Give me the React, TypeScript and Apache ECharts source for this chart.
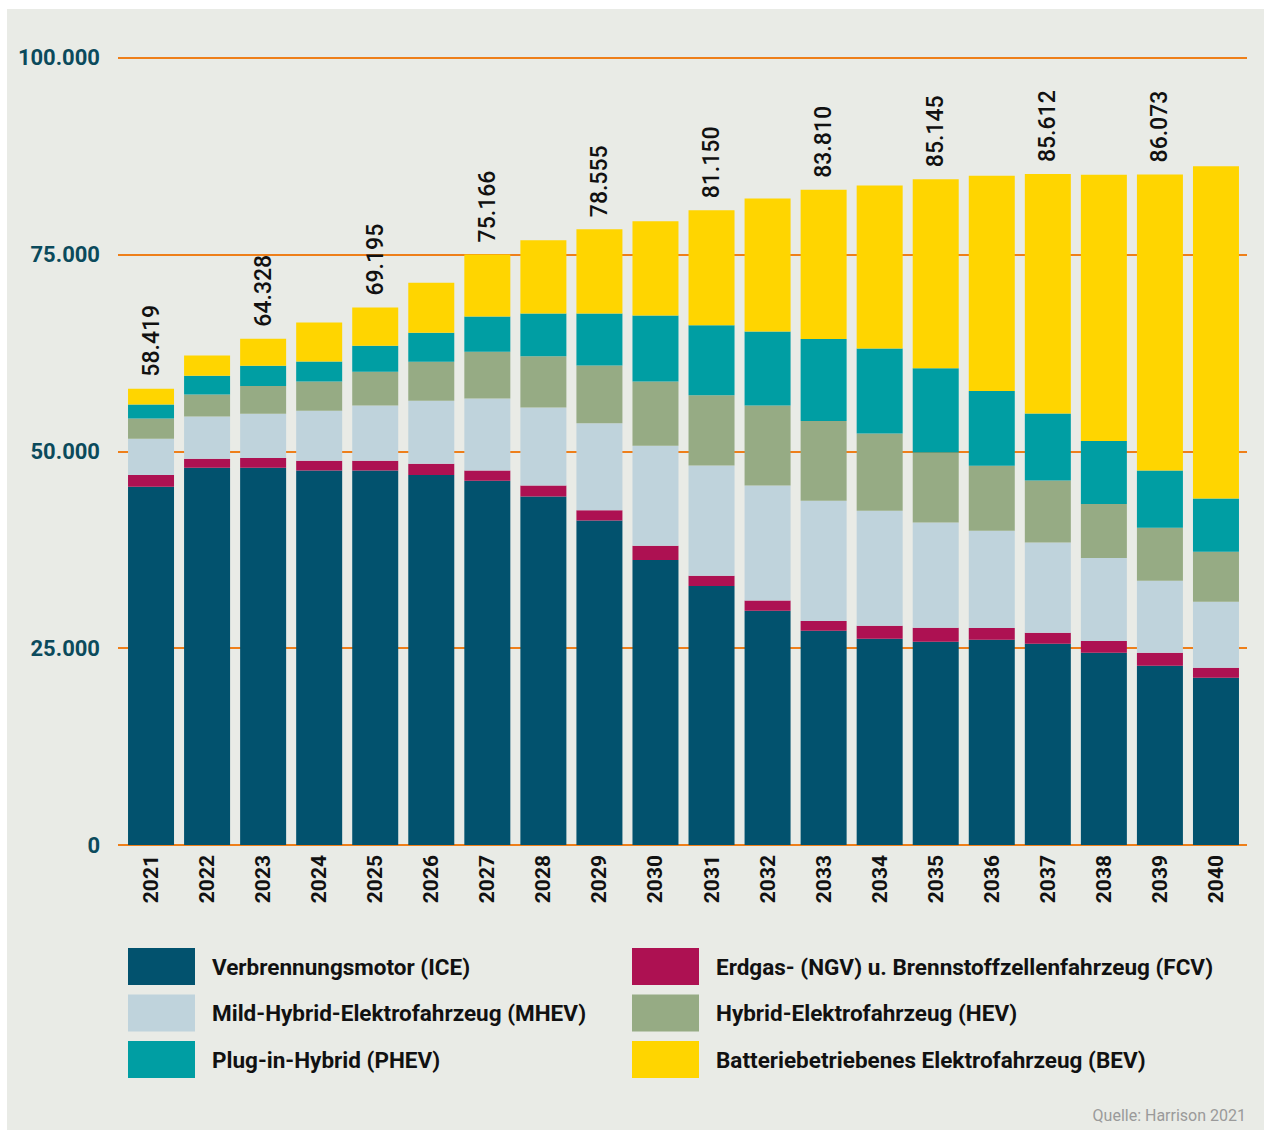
import React, { useEffect, useRef } from "react";
import * as echarts from "echarts";

const years = ["2021","2022","2023","2024","2025","2026","2027","2028","2029","2030","2031","2032","2033","2034","2035","2036","2037","2038","2039","2040"];

const ice  = [45500,47900,47900,47550,47550,47000,46250,44250,41200,36200,32900,29750,27200,26200,25800,26050,25550,24400,22750,21250];
const ngv  = [1500,1150,1250,1250,1250,1400,1300,1400,1300,1800,1300,1300,1250,1650,1800,1500,1400,1500,1650,1250];
const mhev = [4600,5350,5600,6350,7000,8000,9150,9900,11050,12700,14000,14600,15250,14600,13350,12350,11450,10550,9150,8400];
const hev  = [2550,2800,3550,3700,4300,4950,5950,6500,7350,8150,8900,10150,10150,9800,8900,8250,7900,6850,6750,6350];
const phev = [1800,2400,2550,2550,3300,3700,4450,5450,6600,8400,8900,9400,10400,10800,10700,9500,8500,8000,7250,6750];
const bev  = [2000,2550,3450,4950,4850,6350,7900,9300,10700,11950,14600,16900,18950,20700,24000,27350,30400,33800,37600,42200];

const totalLabels = ["58.419","","64.328","","69.195","","75.166","","78.555","","81.150","","83.810","","85.145","","85.612","","86.073",""];

const seriesNames = [
  "Verbrennungsmotor (ICE)",
  "Erdgas- (NGV) u. Brennstoffzellenfahrzeug (FCV)",
  "Mild-Hybrid-Elektrofahrzeug (MHEV)",
  "Hybrid-Elektrofahrzeug (HEV)",
  "Plug-in-Hybrid (PHEV)",
  "Batteriebetriebenes Elektrofahrzeug (BEV)",
];
const seriesColors = ["#02526e", "#ad1152", "#bfd3dc", "#96ab84", "#009ea3", "#ffd500"];
const seriesData = [ice, ngv, mhev, hev, phev, bev];

const yTicks = [0, 25000, 50000, 75000, 100000];

const FONT = "Roboto, 'Liberation Sans', sans-serif";

const fmt = (v: number) => String(v).replace(/\B(?=(\d{3})+(?!\d))/g, ".");

export default function App() {
  const ref = useRef<HTMLDivElement>(null);
  useEffect(() => {
    if (!ref.current) return;
    const chart = echarts.init(ref.current, null, { renderer: "svg" });
    const legendText = { fontSize: 22.5, fontWeight: "bold", color: "#111", fontFamily: FONT, padding: [0, 0, 0, 12] };
    const option: any = {
      animation: false,
      backgroundColor: "#ffffff",
      graphic: [
        { type: "rect", z: -10, shape: { x: 7, y: 9, width: 1257, height: 1121 }, style: { fill: "#e9ebe6" } },
        {
          type: "text", right: 18, top: 1107,
          style: { text: "Quelle: Harrison 2021", fill: "#9a9a9a", font: `16px ${FONT}` },
        },
      ],
      grid: [
        { left: 118, right: 17, top: 57.5, bottom: 285 },
        { left: 123, right: 20, top: 57.5, bottom: 285 },
      ],
      xAxis: [
        { type: "category", gridIndex: 0, data: years, show: false },
        {
          type: "category", gridIndex: 1, data: years,
          axisLine: { show: false }, axisTick: { show: false },
          axisLabel: { rotate: 90, margin: 10, fontSize: 21, fontWeight: "bold", color: "#111", fontFamily: FONT, interval: 0 },
        },
      ],
      yAxis: [
        {
          type: "value", gridIndex: 0, min: yTicks[0], max: yTicks[yTicks.length - 1], interval: 25000,
          axisLine: { show: false }, axisTick: { show: false },
          splitLine: { show: true, lineStyle: { color: "#ee7f1a", width: 2 } },
          axisLabel: { formatter: (v: number) => fmt(v), margin: 18, fontSize: 22, fontWeight: "bold", color: "#0b4a5c", fontFamily: FONT },
        },
        {
          type: "value", gridIndex: 1, min: 0, max: 100000, interval: 25000, show: false,
          splitLine: { show: false },
        },
      ],
      legend: [
        {
          orient: "vertical", left: 128, top: 948, padding: 0, itemWidth: 67, itemHeight: 37, itemGap: 9.5,
          icon: "rect", selectedMode: false,
          data: [seriesNames[0], seriesNames[2], seriesNames[4]],
          textStyle: legendText,
        },
        {
          orient: "vertical", left: 632, top: 948, padding: 0, itemWidth: 67, itemHeight: 37, itemGap: 9.5,
          icon: "rect", selectedMode: false,
          data: [seriesNames[1], seriesNames[3], seriesNames[5]],
          textStyle: legendText,
        },
      ],
      series: seriesData.map((d, i) => ({
        name: seriesNames[i],
        type: "bar",
        stack: "total",
        xAxisIndex: 1,
        yAxisIndex: 1,
        data: d,
        barWidth: 46,
        itemStyle: { color: seriesColors[i] },
        label: i === seriesData.length - 1 ? {
          show: true, position: "top", rotate: 90, distance: 12,
          align: "left", verticalAlign: "middle",
          fontSize: 23, fontWeight: 500, color: "#111", fontFamily: FONT,
          formatter: (p: any) => totalLabels[p.dataIndex],
        } : { show: false },
      })),
    };
    chart.setOption(option);
    return () => chart.dispose();
  }, []);
  return <div ref={ref} style={{ position: "absolute", left: 0, top: 0, width: 1264, height: 1130 }} />;
}
